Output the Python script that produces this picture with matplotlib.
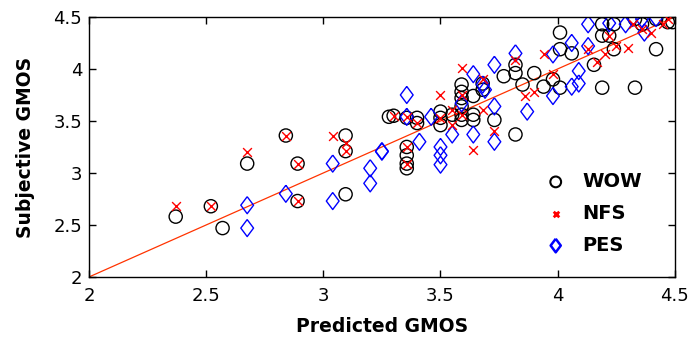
import numpy as np
import matplotlib
matplotlib.use("Agg")
import matplotlib.pyplot as plt

# WOW (circles)
wow_x = [2.37, 2.52, 2.57, 2.675, 2.84, 2.89, 2.89, 3.095, 3.095, 3.095, 3.28,
         3.30, 3.356, 3.356, 3.356, 3.356, 3.356, 3.40, 3.40, 3.50, 3.50, 3.50,
         3.55, 3.59, 3.59, 3.59, 3.59, 3.59, 3.59, 3.64, 3.64, 3.64, 3.68, 3.68,
         3.73, 3.77, 3.82, 3.82, 3.82, 3.85, 3.90, 3.94, 3.98, 4.01, 4.01, 4.01,
         4.06, 4.155, 4.19, 4.19, 4.19, 4.22, 4.24, 4.24, 4.33, 4.33, 4.36, 4.42,
         4.42, 4.47, 4.49]
wow_y = [2.58, 2.68, 2.47, 3.09, 3.36, 3.09, 2.73, 3.36, 3.21, 2.795, 3.54,
         3.55, 3.53, 3.25, 3.17, 3.09, 3.045, 3.53, 3.48, 3.59, 3.53, 3.46,
         3.56, 3.85, 3.78, 3.72, 3.64, 3.56, 3.51, 3.74, 3.56, 3.51, 3.86, 3.80,
         3.51, 3.93, 4.04, 3.96, 3.37, 3.85, 3.96, 3.83, 3.90, 4.35, 4.19, 3.82,
         4.15, 4.04, 4.43, 4.32, 3.82, 4.32, 4.19, 4.43, 4.48, 3.82, 4.43, 4.48,
         4.19, 4.45, 4.45]

# NFS (crosses)
nfs_x = [2.37, 2.52, 2.675, 2.84, 2.89, 2.89, 3.04, 3.095, 3.095,
         3.30, 3.356, 3.356, 3.356, 3.40, 3.50, 3.50, 3.55, 3.55, 3.59, 3.59,
         3.59, 3.64, 3.68, 3.68, 3.73, 3.82, 3.86, 3.90, 3.94, 3.98, 4.13, 4.17,
         4.20, 4.22, 4.25, 4.30, 4.32, 4.36, 4.40, 4.45, 4.47]
nfs_y = [2.68, 2.68, 3.205, 3.36, 3.09, 2.73, 3.36, 3.29, 3.21,
         3.55, 3.54, 3.25, 3.09, 3.48, 3.75, 3.53, 3.46, 3.61, 4.01, 3.75,
         3.56, 3.22, 3.90, 3.61, 3.40, 4.09, 3.74, 3.78, 4.14, 3.95, 4.19, 4.07,
         4.14, 4.32, 4.22, 4.20, 4.43, 4.38, 4.35, 4.43, 4.48]

# PES (diamonds)
pes_x = [2.675, 2.675, 2.84, 3.04, 3.04, 3.20, 3.20, 3.25,
         3.25, 3.356, 3.356, 3.41, 3.46, 3.50, 3.50, 3.50, 3.55, 3.59, 3.64,
         3.64, 3.68, 3.69, 3.73, 3.73, 3.73, 3.82, 3.87, 3.98, 3.98, 4.06, 4.06,
         4.09, 4.09, 4.13, 4.13, 4.22, 4.29, 4.32, 4.36, 4.37, 4.42]
pes_y = [2.69, 2.47, 2.80, 3.09, 2.73, 3.045, 2.90, 3.205,
         3.21, 3.75, 3.54, 3.30, 3.54, 3.25, 3.17, 3.08, 3.37, 3.67, 3.95,
         3.37, 3.85, 3.80, 4.04, 3.64, 3.30, 4.15, 3.59, 3.74, 4.14, 3.83, 4.25,
         3.86, 3.98, 4.22, 4.43, 4.44, 4.43, 4.49, 4.48, 4.35, 4.49]

# fitted line
fit_x = [2.0, 4.5]
fit_y = [2.0, 4.5]

ticks = [2, 2.5, 3, 3.5, 4, 4.5]
tick_labels = ['2', '2.5', '3', '3.5', '4', '4.5']

plt.rcParams['font.family'] = ['DejaVu Sans']

# a slightly wider diamond than matplotlib's 'd'
diamond = [(0, 1), (0.75, 0), (0, -1), (-0.75, 0), (0, 1)]

fig = plt.figure(figsize=(6.9, 3.39), dpi=100)
ax = fig.add_axes([0.129, 0.183, 0.849, 0.767])

ax.plot(fit_x, fit_y, color='#ff3300', lw=0.9, zorder=1)
ax.scatter(wow_x, wow_y, s=90, marker='o', facecolors='none',
           edgecolors='black', linewidths=1.0, label='WOW', zorder=2)
ax.scatter(nfs_x, nfs_y, s=40, marker='x', color='red',
           linewidths=1.0, label='NFS', zorder=3)
ax.scatter(pes_x, pes_y, s=150, marker=diamond, facecolors='none',
           edgecolors='blue', linewidths=1.0, label='PES', zorder=2)

ax.set_xlim(2, 4.5)
ax.set_ylim(2, 4.5)
ax.set_xticks(ticks)
ax.set_yticks(ticks)
ax.set_xticklabels(tick_labels)
ax.set_yticklabels(tick_labels)
ax.tick_params(direction='in', length=5, top=True, right=True,
               labelsize=13, colors='black', width=1)
ax.tick_params(axis='x', pad=7)
ax.tick_params(axis='y', pad=5)
for sp in ax.spines.values():
    sp.set_linewidth(1.0)

ax.set_xlabel('Predicted GMOS', fontsize=13.5, fontweight='bold', labelpad=9)
ax.set_ylabel('Subjective GMOS', fontsize=13.5, fontweight='bold', labelpad=13)

leg = ax.legend(loc='upper left', frameon=False, fontsize=14,
                handlelength=1.0, handletextpad=0.85, labelspacing=0.66,
                borderpad=0, borderaxespad=0,
                bbox_to_anchor=(546 / 690, 1 - 172 / 339),
                bbox_transform=fig.transFigure)
for t in leg.get_texts():
    t.set_fontweight('bold')
hs = leg.legend_handles
hs[0].set_sizes([60])
hs[0].set_linewidth(1.5)
hs[1].set_sizes([16])
hs[1].set_linewidth(2.0)
hs[2].set_sizes([95])
hs[2].set_linewidth(1.8)

fig.savefig('out.png', dpi=100)
